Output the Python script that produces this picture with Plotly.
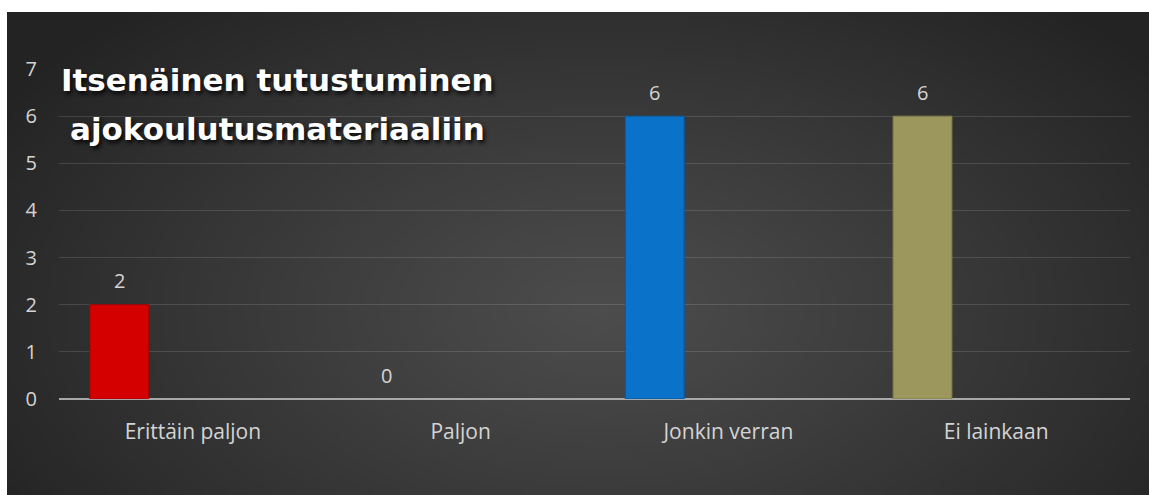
import base64, struct, zlib, math
import plotly.graph_objects as go

categories = ["Erittäin paljon", "Paljon", "Jonkin verran", "Ei lainkaan"]
values = [2, 0, 6, 6]
bar_colors = ["#d40000", "#d40000", "#0a72c8", "#9c975c"]
line_colors = ["#a00000", "#a00000", "#07589c", "#7d7948"]
title_lines = ["Itsenäinen tutustuminen", "ajokoulutusmateriaaliin"]
y_ticks = [0, 1, 2, 3, 4, 5, 6, 7]

BAR_OFFSET = -0.385
BAR_WIDTH = 0.22
LABEL_FONT = "Open Sans, Lato, sans-serif"


def gradient_png(w, h):
    rows = []
    for j in range(h):
        row = bytearray([0])
        for i in range(w):
            dx = (i / (w - 1) - 0.52) / 0.62
            dy = (j / (h - 1) - 0.62) / 0.85
            d = min(math.sqrt(dx * dx + dy * dy), 1.0)
            v = int(round(0x4c - (0x4c - 0x23) * (d ** 1.1)))
            row += bytes([v, v, v])
        rows.append(bytes(row))
    raw = b"".join(rows)

    def chunk(tag, data):
        c = struct.pack(">I", len(data)) + tag + data
        return c + struct.pack(">I", zlib.crc32(tag + data) & 0xffffffff)

    png = b"\x89PNG\r\n\x1a\n"
    png += chunk(b"IHDR", struct.pack(">IIBBBBB", w, h, 8, 2, 0, 0, 0))
    png += chunk(b"IDAT", zlib.compress(raw, 9))
    png += chunk(b"IEND", b"")
    return "data:image/png;base64," + base64.b64encode(png).decode()


W, H = 1149, 495
ML, MR, MT, MB = 59, 19, 69, 96
PW, PH = W - ML - MR, H - MT - MB

fig = go.Figure()
fig.add_trace(go.Bar(
    x=categories, y=values,
    offset=BAR_OFFSET, width=BAR_WIDTH,
    marker=dict(color=bar_colors,
                line=dict(color=line_colors, width=[1 if v > 0 else 0 for v in values])),
    hoverinfo="x+y",
))

for i, v in enumerate(values):
    fig.add_annotation(
        x=i + BAR_OFFSET + BAR_WIDTH / 2, y=v, xref="x", yref="y",
        text=str(v), showarrow=False, yshift=24,
        font=dict(family=LABEL_FONT, size=20, color="#d4d4d4"),
    )

title_font = dict(family="DejaVu Sans", size=31, color="#ffffff", weight="bold",
                  shadow="2px 3px 4px rgba(0,0,0,0.85)")
for k, line in enumerate(title_lines):
    fig.add_annotation(
        x=(277 - ML) / PW, y=(H - MB - (80 + 49 * k)) / PH,
        xref="paper", yref="paper", text=line, showarrow=False,
        xanchor="center", yanchor="middle", font=title_font,
    )

img = gradient_png(240, 110)
fig.add_layout_image(dict(
    source=img, xref="paper", yref="paper",
    x=(7 - ML) / PW, y=(H - MB - 12) / PH,
    sizex=(W - 7) / PW, sizey=(H - 12) / PH,
    xanchor="left", yanchor="top", sizing="stretch", layer="below",
))

fig.update_layout(
    width=W, height=H,
    margin=dict(l=ML, r=MR, t=MT, b=MB, pad=0),
    paper_bgcolor="#ffffff",
    plot_bgcolor="rgba(0,0,0,0)",
    showlegend=False,
    xaxis=dict(
        type="category", showgrid=False, zeroline=False,
        showline=False, ticks="", ticklabelstandoff=18,
        tickfont=dict(family=LABEL_FONT, size=21, color="#d4d4d4"),
        fixedrange=True,
    ),
    yaxis=dict(
        range=[0, 7], tickvals=y_ticks, showgrid=True,
        gridcolor="rgba(255,255,255,0.13)", gridwidth=1,
        zeroline=True, zerolinecolor="#a8a8a8", zerolinewidth=2,
        showline=False, ticks="", ticklabelstandoff=21,
        tickfont=dict(family=LABEL_FONT, size=20, color="#d4d4d4"),
        fixedrange=True,
    ),
)

fig.write_html("out.html")
